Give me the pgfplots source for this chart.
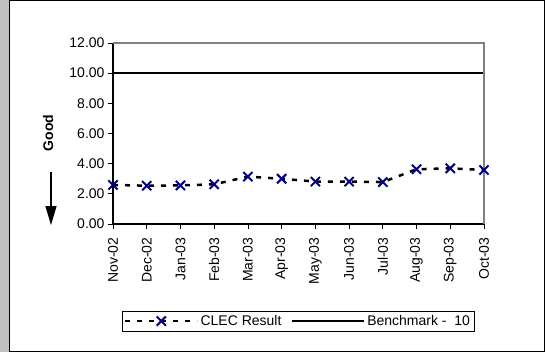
\documentclass[border=0pt]{standalone}
\usepackage{pgfplots}
\pgfplotsset{compat=1.18}
\usepackage{fontspec}
\setmainfont{Liberation Sans}
\usetikzlibrary{arrows.meta}
\definecolor{navy}{RGB}{0,0,128}
\definecolor{stripgrey}{RGB}{192,192,192}
\definecolor{boxgrey}{RGB}{128,128,128}

\begin{document}
\begin{tikzpicture}[x=1bp,y=1bp]
\useasboundingbox (0,0) rectangle (545,352);
\fill[stripgrey] (0,0) rectangle (9,352);
\draw[line width=1bp] (9.5,1) rectangle (544.5,351);

% Good arrow on the left
\node[rotate=90, font=\fontsize{14bp}{17bp}\selectfont\bfseries] at (48,219) {Good};
\draw[line width=1.2bp, -{Triangle[length=19bp,width=11bp]}] (51,180) -- (51,127);

\begin{axis}[
  at={(113bp,128bp)}, anchor=south west,
  scale only axis, width=371bp, height=181bp,
  xmin=0, xmax=11, ymin=0, ymax=12,
  ytick={0,2,...,12},
  xtick={0,...,11},
  xticklabels={Nov-02,Dec-02,Jan-03,Feb-03,Mar-03,Apr-03,May-03,Jun-03,Jul-03,Aug-03,Sep-03,Oct-03},
  x tick label style={rotate=90, anchor=east},
  xticklabel shift=5bp,
  yticklabel style={/pgf/number format/.cd, fixed, fixed zerofill, precision=2, assume math mode=true},
  axis lines=left,
  axis line style={-, black, line width=1.2bp},
  tick align=outside, major tick length=5bp,
  tick style={black, line width=0.8bp},
  clip=false,
  font=\fontsize{14bp}{17bp}\selectfont,
  legend columns=2,
  legend style={at={(0.4987,-0.536)}, anchor=center, draw=black,
    font=\fontsize{14bp}{17bp}\selectfont, inner sep=2bp,
    /tikz/every even column/.append style={column sep=8bp}},
  legend image code/.code={
    \draw[mark repeat=2,mark phase=2,#1] plot coordinates {(0bp,0bp) (36bp,0bp) (72bp,0bp)};},
]
\addplot[black, line width=2.5bp, dash pattern=on 5bp off 7bp,
  mark=x, mark size=6.5bp, mark options={solid, navy, line width=2bp}]
  coordinates {
  (0,2.59) (1,2.54) (2,2.56) (3,2.63) (4,3.14) (5,3.00)
  (6,2.81) (7,2.81) (8,2.78) (9,3.63) (10,3.69) (11,3.58)
  };
\addlegendentry{CLEC Result}
\addplot[black, line width=1.8bp, mark=none]
  coordinates {
  (0,10) (1,10) (2,10) (3,10) (4,10) (5,10)
  (6,10) (7,10) (8,10) (9,10) (10,10) (11,10)
  };
\addlegendentry{Benchmark -\ \ 10}
\draw[boxgrey, line width=1.2bp] (rel axis cs:0,1) -- (rel axis cs:1,1) -- (rel axis cs:1,0);
\end{axis}
\end{tikzpicture}
\end{document}
